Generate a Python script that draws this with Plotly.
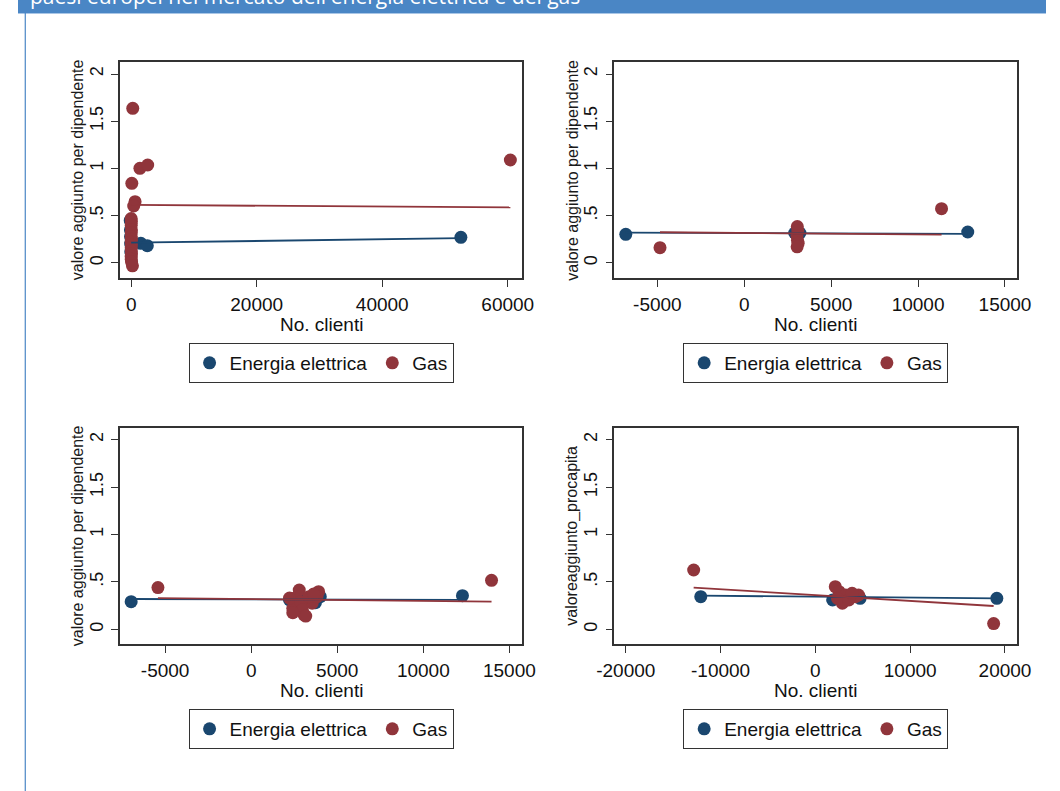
import plotly.graph_objects as go

# ---- data -------------------------------------------------------------
# Panel 1: valore aggiunto per dipendente vs No. clienti (all observations)
elec1_x = [-150, -120, -100, -80, -60, 0, 1540, 2570, 52530]
elec1_y = [0.45, 0.35, 0.28, 0.20, 0.12, 0.22, 0.208, 0.183, 0.272]
gas1_x = [250, 1390, 2630, 100, 620, 400, 60414, 0, 30, 10, 40, 20, 0, 50,
          10, 30, 0, 20, 40, 0, 10, 60, 200]
gas1_y = [1.637, 1.002, 1.037, 0.843, 0.649, 0.603, 1.09, 0.47, 0.44, 0.40,
          0.35, 0.32, 0.28, 0.25, 0.22, 0.19, 0.16, 0.13, 0.10, 0.07, 0.04,
          0.01, -0.03]
fit_elec1_x = [0, 52530]
fit_elec1_y = [0.215, 0.262]
fit_gas1_x = [0, 60414]
fit_gas1_y = [0.614, 0.589]

# Panel 2
elec2_x = [-6819, 2900, 3200, 3050, 12857]
elec2_y = [0.303, 0.317, 0.317, 0.33, 0.328]
gas2_x = [-4850, 3050, 3080, 3030, 3060, 3100, 3040, 11350]
gas2_y = [0.162, 0.386, 0.34, 0.29, 0.24, 0.21, 0.171, 0.575]
fit_elec2_x = [-6819, 12857]
fit_elec2_y = [0.321, 0.307]
fit_gas2_x = [-4850, 11350]
fit_gas2_y = [0.325, 0.30]

# Panel 3
elec3_x = [-6972, 2228, 3733, 4014, 3000, 12274]
elec3_y = [0.292, 0.31, 0.28, 0.344, 0.32, 0.355]
gas3_x = [-5417, 2792, 2510, 3918, 2417, 3073, 3541, 2228, 2887, 3355, 3823,
          2977, 3636, 2417, 3169, 13963]
gas3_y = [0.44, 0.415, 0.327, 0.397, 0.222, 0.151, 0.275, 0.33, 0.29, 0.344,
          0.344, 0.204, 0.373, 0.176, 0.14, 0.517]
fit_elec3_x = [-6972, 12274]
fit_elec3_y = [0.32, 0.31]
fit_gas3_x = [-5417, 13963]
fit_gas3_y = [0.33, 0.292]

# Panel 4: valoreaggiunto_procapita
elec4_x = [-12092, 1822, 4717, 3500, 2500, 19141]
elec4_y = [0.344, 0.31, 0.327, 0.32, 0.33, 0.327]
gas4_x = [-12839, 2097, 2506, 3188, 2845, 4205, 4552, 2335, 3529, 3870, 18804]
gas4_y = [0.626, 0.45, 0.397, 0.362, 0.275, 0.344, 0.362, 0.327, 0.31, 0.38,
          0.06]
fit_elec4_x = [-12092, 19141]
fit_elec4_y = [0.355, 0.327]
fit_gas4_x = [-12839, 18804]
fit_gas4_y = [0.44, 0.246]

y_tickvals = [0, 0.5, 1, 1.5, 2]
y_ticktext = ["0", ".5", "1", "1.5", "2"]
x_ticks_1 = [0, 20000, 40000, 60000]
x_ticks_2 = [-5000, 0, 5000, 10000, 15000]
x_ticks_3 = [-5000, 0, 5000, 10000, 15000]
x_ticks_4 = [-20000, -10000, 0, 10000, 20000]

y_titles = ["valore aggiunto per dipendente", "valore aggiunto per dipendente",
            "valore aggiunto per dipendente", "valoreaggiunto_procapita"]
x_title = "No. clienti"
series_names = ["Energia elettrica", "Gas"]
banner_text = "paesi europei nel mercato dell'energia elettrica e del gas"

# ---- styling ----------------------------------------------------------
W, H = 1060, 791
NAVY = "#1a476f"
MAROON = "#90353b"
FRAME = "#333333"
FONT = "Liberation Sans, Arial, sans-serif"

def px_x(p):
    return p / W

def px_y(p):
    return 1 - p / H

# plot-area rectangles in pixels: (left, right, top, bottom)
boxes = [(105, 520, 62, 278), (615, 1030, 62, 278),
         (105, 520, 428, 644), (615, 1030, 428, 644)]
x_ranges = [[-1808, 62317], [-7472, 15686], [-7631, 15751], [-21197, 21258]]
y_ranges = [[-0.159, 2.127], [-0.159, 2.127], [-0.155, 2.124], [-0.155, 2.124]]
x_ticks = [x_ticks_1, x_ticks_2, x_ticks_3, x_ticks_4]
legend_top = [343, 343, 709, 709]

panels = [
    (elec1_x, elec1_y, gas1_x, gas1_y, fit_elec1_x, fit_elec1_y, fit_gas1_x, fit_gas1_y),
    (elec2_x, elec2_y, gas2_x, gas2_y, fit_elec2_x, fit_elec2_y, fit_gas2_x, fit_gas2_y),
    (elec3_x, elec3_y, gas3_x, gas3_y, fit_elec3_x, fit_elec3_y, fit_gas3_x, fit_gas3_y),
    (elec4_x, elec4_y, gas4_x, gas4_y, fit_elec4_x, fit_elec4_y, fit_gas4_x, fit_gas4_y),
]

fig = go.Figure()
layout = {}
annotations = []

for i, (ex, ey, gx, gy, fex, fey, fgx, fgy) in enumerate(panels):
    n = "" if i == 0 else str(i + 1)
    xa, ya = "x" + n, "y" + n
    leg = "legend" + n
    common = dict(xaxis=xa, yaxis=ya, cliponaxis=False)
    fig.add_trace(go.Scatter(x=ex, y=ey, mode="markers", name=series_names[0],
                             marker=dict(color=NAVY, size=13, line=dict(width=0)),
                             legend=leg, **common))
    fig.add_trace(go.Scatter(x=gx, y=gy, mode="markers", name=series_names[1],
                             marker=dict(color=MAROON, size=13, line=dict(width=0)),
                             legend=leg, **common))
    fig.add_trace(go.Scatter(x=fex, y=fey, mode="lines", showlegend=False,
                             line=dict(color=NAVY, width=1.8), **common))
    fig.add_trace(go.Scatter(x=fgx, y=fgy, mode="lines", showlegend=False,
                             line=dict(color=MAROON, width=1.8), **common))

    l, r, t, b = boxes[i]
    axis_common = dict(showgrid=False, zeroline=False, showline=True,
                       linecolor=FRAME, linewidth=1.5, mirror=True,
                       ticks="outside", ticklen=7, tickwidth=1.3,
                       tickcolor=FRAME, ticklabelstandoff=1)
    layout["xaxis" + n] = dict(axis_common, domain=[px_x(l), px_x(r)],
                               range=x_ranges[i], anchor=ya,
                               tickvals=x_ticks[i],
                               ticktext=[str(v) for v in x_ticks[i]],
                               tickfont=dict(family=FONT, size=19, color="#111"))
    layout["yaxis" + n] = dict(axis_common, domain=[px_y(b), px_y(t)],
                               range=y_ranges[i], anchor=xa,
                               tickvals=y_tickvals, ticktext=y_ticktext,
                               tickangle=-90,
                               tickfont=dict(family=FONT, size=18, color="#111"))
    cx = (l + r) / 2
    layout[leg] = dict(orientation="h", x=px_x(cx), xanchor="center",
                       y=px_y(legend_top[i]), yanchor="top",
                       bgcolor="white", bordercolor=FRAME, borderwidth=1,
                       font=dict(family=FONT, size=19, color="#111"))
    # axis titles
    annotations.append(dict(text=y_titles[i], xref="paper", yref="paper",
                            x=px_x(l - 44), y=px_y((t + b) / 2),
                            xanchor="center", yanchor="middle", textangle=-90,
                            showarrow=False,
                            font=dict(family=FONT, size=16, color="#1a1a1a")))
    annotations.append(dict(text=x_title, xref="paper", yref="paper",
                            x=px_x(cx), y=px_y(b + 46),
                            xanchor="center", yanchor="middle",
                            showarrow=False,
                            font=dict(family=FONT, size=19, color="#111")))

# banner across the top, its caption running off the top edge
annotations.append(dict(text=banner_text, xref="paper", yref="paper",
                        x=px_x(10), y=px_y(12), xanchor="left", yanchor="bottom",
                        showarrow=False,
                        font=dict(family="Open Sans, sans-serif", size=21, color="white")))

shapes = [
    dict(type="rect", xref="paper", yref="paper", x0=0, x1=1,
         y0=px_y(13), y1=1.02, fillcolor="#4a86c5", line=dict(width=0), layer="below"),
    dict(type="line", xref="paper", yref="paper", x0=0, x1=1,
         y0=px_y(13.5), y1=px_y(13.5), line=dict(color="#a9c6e6", width=1)),
    dict(type="line", xref="paper", yref="paper", x0=px_x(7.5), x1=px_x(7.5),
         y0=0, y1=px_y(13), line=dict(color="#4a86c5", width=1.2)),
]

fig.update_layout(
    width=W, height=H,
    margin=dict(l=0, r=0, t=0, b=0),
    paper_bgcolor="white", plot_bgcolor="white",
    font=dict(family=FONT),
    annotations=annotations, shapes=shapes,
    **layout,
)

fig.write_html("out.html")
